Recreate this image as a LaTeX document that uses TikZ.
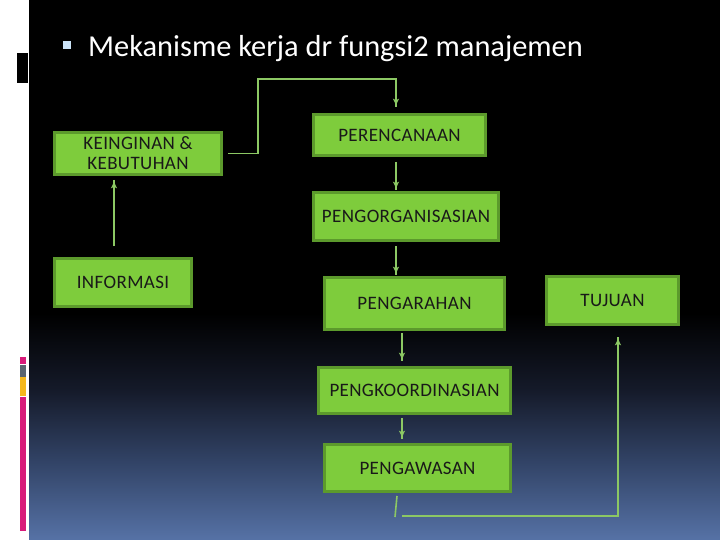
\documentclass[tikz,border=0pt]{standalone}
\usepackage{fontspec}
\setmainfont{Carlito}
\newfontfamily\kotakfont[LetterSpace=2]{Carlito}
\usepackage{tikz}
\usetikzlibrary{arrows,decorations.markings}
\usetikzlibrary{shapes, positioning}
\definecolor{hijau}{RGB}{126,204,60}
\definecolor{hijaugelap}{RGB}{92,154,44}
\definecolor{garishijau}{RGB}{140,200,100}
\definecolor{biru}{RGB}{86,114,166}
\definecolor{birumuda}{RGB}{204,228,248}
\definecolor{magenta1}{RGB}{216,27,122}
\definecolor{abu}{RGB}{90,101,112}
\definecolor{kuning}{RGB}{245,184,28}
\pgfdeclareverticalshading{latar}{100bp}{rgb(0bp)=(0.337,0.447,0.651);
    rgb(25bp)=(0.337,0.447,0.651); rgb(32bp)=(0.2,0.27,0.41);
    rgb(39bp)=(0.08,0.1,0.16); rgb(46bp)=(0,0,0); rgb(100bp)=(0,0,0)}
\tikzset{kotak/.style={draw=hijaugelap, fill=hijau, line width=3pt,
    inner sep=0pt, align=center, text=black!90,
    font=\kotakfont\fontsize{19}{20}\selectfont}}
\tikzset{garis/.style={draw=garishijau, line width=1.6pt}}
\tikzset{panah/.style={garis, decoration={markings,mark=at position 1 with %
    {\arrow[scale=1.1,>=latex', garishijau]{>}}},postaction={decorate}}}

\begin{document}
\begin{tikzpicture}[x=1pt, y=-1pt]
    \useasboundingbox (0, 0) rectangle (720, 540);

    %latar
    \fill[white] (0, 0) rectangle (29, 540);
    \shade[shading=latar] (29, 0) rectangle (720, 540);
    \fill[black] (17, 53) rectangle (28, 83);
    \fill[magenta1] (20, 357) rectangle (26, 364);
    \fill[abu] (20, 365) rectangle (26, 377);
    \fill[kuning] (20, 377) rectangle (26, 396);
    \fill[magenta1] (20, 397) rectangle (26, 531);

    %judul
    \fill[birumuda] (63, 41) rectangle (71, 49);
    \node[anchor=base west, white, inner sep=0pt, font=\fontsize{30.4}{36}\selectfont]
        (judul) at (88, 57) {Mekanisme kerja dr fungsi2 manajemen};

    %kotak
    \node[kotak, minimum width=167pt, minimum height=42pt] (keinginan)
        at (138, 153.5) {KEINGINAN \&\\KEBUTUHAN};
    \node[kotak, minimum width=137pt, minimum height=48pt] (informasi)
        at (123, 282.5) {INFORMASI};
    \node[kotak, minimum width=172pt, minimum height=41pt] (perencanaan)
        at (399.5, 135) {PERENCANAAN};
    \node[kotak, minimum width=185pt, minimum height=48pt] (pengorganisasian)
        at (406, 216.5) {PENGORGANISASIAN};
    \node[kotak, minimum width=180pt, minimum height=52pt] (pengarahan)
        at (414.5, 303.5) {PENGARAHAN};
    \node[kotak, minimum width=192pt, minimum height=46pt] (pengkoordinasian)
        at (414.5, 390.5) {PENGKOORDINASIAN};
    \node[kotak, minimum width=186pt, minimum height=47pt] (pengawasan)
        at (417.5, 468) {PENGAWASAN};
    \node[kotak, minimum width=132pt, minimum height=48pt] (tujuan)
        at (612.5, 300.5) {TUJUAN};

    %panah
    \coordinate (atas) at (396, 79);
    \coordinate (bawah) at (402, 516);
    \draw[panah] ([xshift=5pt]keinginan.east) -- ++(30, 0) |- (atas)
        -- ([xshift=-3.5pt, yshift=6pt]perencanaan.north);
    \draw[panah] ([xshift=-3.5pt, yshift=-5pt]perencanaan.south)
        -- ([xshift=-10pt, yshift=1pt]pengorganisasian.north);
    \draw[panah] ([xshift=-10pt, yshift=-4pt]pengorganisasian.south)
        -- ([xshift=-18.5pt, yshift=1pt]pengarahan.north);
    \draw[panah] ([xshift=-9pt, yshift=11pt]informasi.north)
        -- ([xshift=-24pt, yshift=-4pt]keinginan.south);
    \draw[panah] ([xshift=-12.5pt, yshift=-2pt]pengarahan.south)
        -- ([xshift=-12.5pt, yshift=5pt]pengkoordinasian.north);
    \draw[panah] ([xshift=-12.5pt, yshift=-3pt]pengkoordinasian.south)
        -- ([xshift=-15.5pt, yshift=4pt]pengawasan.north);

    %ke tujuan
    \draw[garis] ([xshift=-20.5pt, yshift=-3pt]pengawasan.south) -- ++(-2, 21);
    \draw[panah] (bawah) -| ([xshift=5.5pt, yshift=-11pt]tujuan.south);
\end{tikzpicture}
\end{document}
